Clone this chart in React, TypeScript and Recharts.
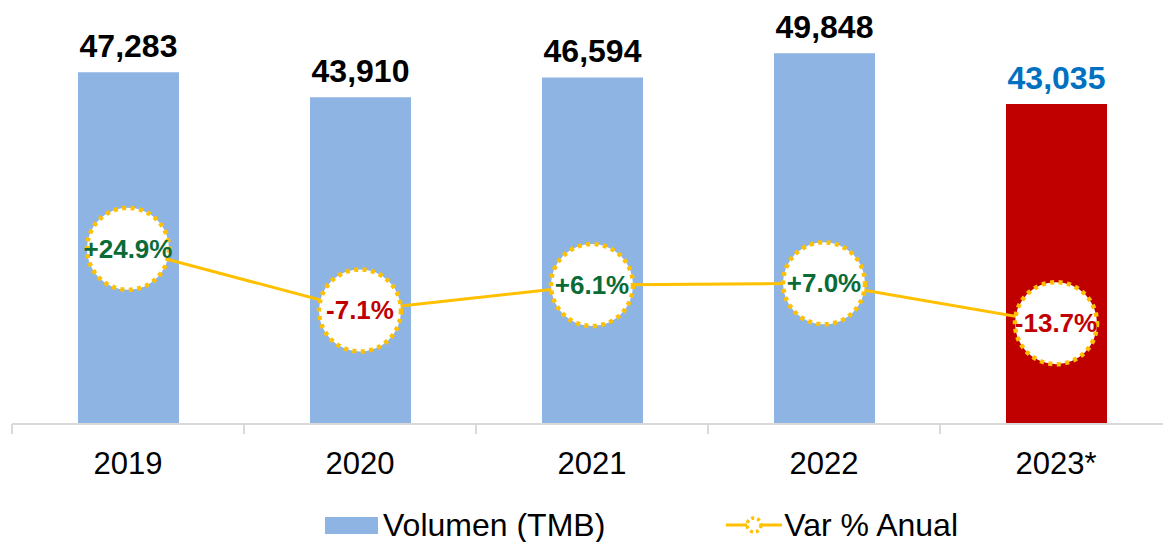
import { ComposedChart, Bar, Line, XAxis, YAxis, Cell, LabelList, Legend } from 'recharts'

const years = ['2019', '2020', '2021', '2022', '2023*']
const volumen = [47283, 43910, 46594, 49848, 43035]
const variacion = [24.9, -7.1, 6.1, 7.0, -13.7]

const data = years.map((year, i) => ({ year, volumen: volumen[i], variacion: variacion[i] }))

const FONT = '"Liberation Sans", Arial, sans-serif'
const BLUE = '#8EB4E3'
const RED = '#C00000'
const GOLD = '#FFC000'
const HALF_BAND = 116

function formatPct(v: number) {
  return v > 0 ? `+${v.toFixed(1)}%` : `${v.toFixed(1)}%`
}

const renderVolLabel = (props: any) => {
  const { x, y, width, value, index } = props
  return (
    <text
      x={Number(x) + Number(width) / 2}
      y={Number(y) - 15}
      textAnchor="middle"
      fontSize={32}
      fontWeight="bold"
      fontFamily={FONT}
      fill={index === years.length - 1 ? '#0070C0' : '#000000'}
    >
      {Number(value).toLocaleString('en-US')}
    </text>
  )
}

const renderDot = (props: any) => {
  const { cx, cy, payload, index } = props
  const v = payload.variacion
  return (
    <g key={`dot-${index}`}>
      <circle cx={cx} cy={cy} r={41} fill="#ffffff" stroke={GOLD} strokeWidth={4.5} strokeDasharray="4 4.5" />
      <text
        x={cx}
        y={cy + 9}
        textAnchor="middle"
        fontSize={26}
        fontWeight="bold"
        fontFamily={FONT}
        fill={v >= 0 ? '#0B6B37' : RED}
      >
        {formatPct(v)}
      </text>
    </g>
  )
}

const renderTick = (props: any) => {
  const { x, y, payload, index } = props
  return (
    <g>
      <line x1={x - HALF_BAND} y1={y} x2={x - HALF_BAND} y2={y + 10} stroke="#d9d9d9" strokeWidth={2} />
      {index === years.length - 1 && (
        <line x1={x + HALF_BAND} y1={y} x2={x + HALF_BAND} y2={y + 10} stroke="#d9d9d9" strokeWidth={2} />
      )}
      <text x={x} y={y + 50} textAnchor="middle" fontSize={31} fontFamily={FONT} fill="#000000">
        {payload.value}
      </text>
    </g>
  )
}

const renderLegend = () => (
  <div style={{ display: 'flex', alignItems: 'center', fontFamily: FONT, fontSize: 32, color: '#000', lineHeight: '36px' }}>
    <div style={{ width: 53, height: 17, background: BLUE, marginRight: 5 }} />
    <span>Volumen (TMB)</span>
    <svg width={56} height={36} style={{ marginLeft: 121, marginRight: 2 }}>
      <line x1={0} y1={18} x2={56} y2={18} stroke={GOLD} strokeWidth={3} />
      <circle cx={28} cy={18} r={7} fill="#ffffff" stroke={GOLD} strokeWidth={3.5} strokeDasharray="3 3" />
    </svg>
    <span>Var % Anual</span>
  </div>
)

export default function App() {
  return (
    <div style={{ position: 'absolute', left: 0, top: 0, width: 1163, height: 542, overflow: 'hidden', background: '#fff' }}>
      <ComposedChart width={1172} height={542} data={data} margin={{ top: 0, right: 0, left: 12, bottom: 0 }}>
        <XAxis
          dataKey="year"
          height={118}
          interval={0}
          tickSize={0}
          tickMargin={0}
          tickLine={false}
          axisLine={{ stroke: '#d9d9d9', strokeWidth: 2 }}
          tick={renderTick}
        />
        <YAxis yAxisId="vol" hide domain={[0, 57000]} />
        <YAxis yAxisId="pct" hide orientation="right" domain={[-66, 154]} />
        <Legend
          layout="horizontal"
          verticalAlign="middle"
          content={renderLegend}
          wrapperStyle={{ position: 'absolute', top: 507, left: 325, width: 700, height: 36 }}
        />
        <Bar yAxisId="vol" dataKey="volumen" barSize={101} isAnimationActive={false}>
          {data.map((d, i) => (
            <Cell key={d.year} fill={i === years.length - 1 ? RED : BLUE} />
          ))}
          <LabelList dataKey="volumen" content={renderVolLabel} />
        </Bar>
        <Line
          yAxisId="pct"
          dataKey="variacion"
          type="linear"
          stroke={GOLD}
          strokeWidth={3}
          dot={renderDot}
          activeDot={false}
          isAnimationActive={false}
        />
      </ComposedChart>
    </div>
  )
}
